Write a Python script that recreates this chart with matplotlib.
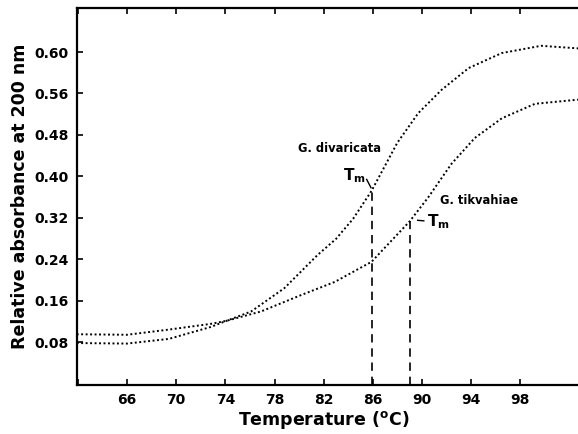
import matplotlib
matplotlib.use("Agg")
import matplotlib.pyplot as plt

plt.rcParams['font.family'] = ['DejaVu Sans']
plt.rcParams['font.weight'] = 'bold'
plt.rcParams['mathtext.fontset'] = 'dejavusans'

# melting curves
temp_div = [61.9, 66.0, 69.4, 72.8, 74.1, 76.1, 78.8, 81.5, 83.0, 84.4, 85.9, 88.0, 89.7, 91.6, 93.8, 96.5, 99.7, 102.7]
abs_div = [0.078, 0.077, 0.086, 0.109, 0.121, 0.139, 0.184, 0.248, 0.279, 0.318, 0.372, 0.465, 0.522, 0.567, 0.609, 0.638, 0.652, 0.647]

temp_tik = [61.9, 66.0, 69.4, 72.8, 74.1, 76.9, 80.2, 82.9, 85.9, 89.0, 90.5, 92.4, 94.3, 96.5, 99.2, 102.7]
abs_tik = [0.095, 0.094, 0.104, 0.115, 0.121, 0.139, 0.171, 0.196, 0.235, 0.313, 0.359, 0.424, 0.474, 0.512, 0.540, 0.548]

tm_div = (85.9, 0.372)
tm_tik = (89.0, 0.313)

xticks = [62, 66, 70, 74, 78, 82, 86, 90, 94, 98]
xlabels = ['', '66', '70', '74', '78', '82', '86', '90', '94', '98']
yticks = [0.08, 0.16, 0.24, 0.32, 0.40, 0.48, 0.56, 0.64]
ylabels = ['0.08', '0.16', '0.24', '0.32', '0.40', '0.48', '0.56', '0.60']

fig = plt.figure(figsize=(5.78, 4.34), dpi=100)
ax = fig.add_axes([0.1327, 0.1129, 0.8673, 0.8687])

dots = (0, (1, 1.3))
ax.plot(temp_div, abs_div, color='black', lw=1.4, linestyle=dots)
ax.plot(temp_tik, abs_tik, color='black', lw=1.4, linestyle=dots)

ymin, ymax = -0.003, 0.725
ax.plot([tm_div[0], tm_div[0]], [ymin, tm_div[1]], color='black', lw=1.2, linestyle=(0, (5, 3.5)))
ax.plot([tm_tik[0], tm_tik[0]], [ymin, tm_tik[1]], color='black', lw=1.2, linestyle=(0, (5, 3.5)))

ax.set_xlim(61.9, 102.7)
ax.set_ylim(ymin, ymax)

ax.set_xticks(xticks)
ax.set_xticklabels(xlabels)
ax.set_yticks(yticks)
ax.set_yticklabels(ylabels)
ax.tick_params(direction='in', length=4, width=1.2, labelsize=10, top=True, pad=6)
for lab in ax.get_xticklabels() + ax.get_yticklabels():
    lab.set_fontweight('bold')

for s in ['left', 'bottom', 'top']:
    ax.spines[s].set_linewidth(1.6)
ax.spines['right'].set_visible(False)

# annotations
ax.text(79.92, 0.453, 'G. divaricata', fontsize=8.3, fontweight='bold', ha='left', va='center')
ax.text(85.45, 0.402, r'$\mathbf{T}_{\mathbf{m}}$', fontsize=11, ha='right', va='center')
ax.plot([85.5, 85.85], [0.394, 0.378], color='black', lw=1)

ax.text(91.45, 0.354, 'G. tikvahiae', fontsize=8.3, fontweight='bold', ha='left', va='center')
ax.text(90.4, 0.312, r'$\mathbf{T}_{\mathbf{m}}$', fontsize=11, ha='left', va='center')
ax.plot([89.65, 90.15], [0.315, 0.314], color='black', lw=1)

fig.text(20 / 578, 1 - 196 / 434, 'Relative absorbance at 200 nm', rotation=90,
         ha='center', va='center', fontsize=12.5, fontweight='bold')
fig.text(324 / 578, 1 - 420 / 434, r'Temperature ($^{\mathbf{o}}$C)',
         ha='center', va='center', fontsize=12.5, fontweight='bold')

fig.savefig('out.png', dpi=100)
